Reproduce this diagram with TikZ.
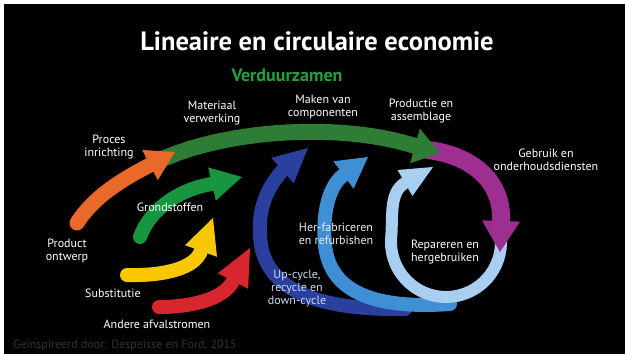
\documentclass[tikz,border=0pt]{standalone}
\usepackage{fontspec}
\setmainfont{PT Sans}
\usetikzlibrary{calc}
\definecolor{cOrange}{HTML}{E8692A}
\definecolor{cGreenL}{HTML}{2E7D34}
\definecolor{cGreenS}{HTML}{17963F}
\definecolor{cYellow}{HTML}{F7C800}
\definecolor{cRed}{HTML}{D8262E}
\definecolor{cBlueD}{HTML}{2B3F9E}
\definecolor{cBlueM}{HTML}{3F8FD4}
\definecolor{cBlueL}{HTML}{A8CFF0}
\definecolor{cPurple}{HTML}{9E2E8F}
\definecolor{cVerd}{HTML}{22A040}
\definecolor{cUp}{HTML}{C8DCF5}
\definecolor{cCredit}{HTML}{333333}
\newcommand\arrhead[4]{\fill[#4] (#2) -- ($(#1)!#3!90:(#2)$) -- ($(#1)!#3!-90:(#2)$) -- cycle;}
\begin{document}
\begin{tikzpicture}[x=1pt,y=-1pt,
  lbl/.style={text=white, font=\fontsize{12}{13}\selectfont, align=center, inner sep=0pt, anchor=base},
  band/.style={line width=#1, line cap=round},
]
\useasboundingbox (0,0) rectangle (625,354);
\fill[white] (0,0) rectangle (625,354);
\fill[black] (4,4) rectangle (625,354);

% --- dark blue (up-cycle) ---
\coordinate (dbT) at (405,309);
\coordinate (dbB) at (282.5,170.5);
\coordinate (dbA) at (308,148);
\draw[band=14pt, cBlueD] (dbT) .. controls (340,310) and (275,300) .. (262,250)
   .. controls (255,215) and (265,190) .. (dbB);
\arrhead{dbB}{dbA}{17pt}{cBlueD}

% --- medium blue (her-fabriceren) ---
\coordinate (mbT) at (450,304);
\coordinate (mbB) at (343.5,175);
\coordinate (mbA) at (368,157);
\draw[band=14pt, cBlueM] (mbT) .. controls (380,309) and (330,295) .. (325,245)
   .. controls (322,210) and (330,185) .. (mbB);
\arrhead{mbB}{mbA}{17pt}{cBlueM}

% --- light blue (repareren) ---
\coordinate (lbC) at (446,242);
\coordinate (lbB) at (405,183);
\coordinate (lbA) at (433,167);
\draw[band=12pt, cBlueL] ($(lbC)+(-15:55)$) arc[start angle=-15, end angle=185, radius=55]
   .. controls (393,217) and (389,192) .. (lbB);
\arrhead{lbB}{lbA}{15pt}{cBlueL}

% --- purple (gebruik) ---
\coordinate (puT) at (428,150);
\coordinate (puB) at (501,221);
\coordinate (puA) at (500,252);
\draw[band=18pt, cPurple] (puT) .. controls (470,155) and (503,180) .. (puB);
\arrhead{puB}{puA}{19pt}{cPurple}

% --- long green (verduurzamen) ---
\coordinate (glT) at (165,158);
\coordinate (glB) at (415,146);
\coordinate (glA) at (440,153);
\draw[band=16pt, cGreenL] (glT) .. controls (230,130) and (340,122) .. (glB);
\arrhead{glB}{glA}{18pt}{cGreenL}

% --- orange (proces inrichting) ---
\coordinate (orT) at (77,223);
\coordinate (orB) at (150,165);
\coordinate (orA) at (175,152);
\draw[band=15pt, cOrange] (orT) .. controls (95,195) and (125,178) .. (orB);
\arrhead{orB}{orA}{17pt}{cOrange}

% --- small green (grondstoffen) ---
\coordinate (gsT) at (140,237);
\coordinate (gsB) at (212,184);
\coordinate (gsA) at (242,177);
\draw[band=14pt, cGreenS] (gsT) .. controls (152,205) and (185,188) .. (gsB);
\arrhead{gsB}{gsA}{17pt}{cGreenS}

% --- yellow (substitutie) ---
\coordinate (yeT) at (127,275);
\coordinate (yeB) at (201,251);
\coordinate (yeA) at (213,218);
\draw[band=14pt, cYellow] (yeT) .. controls (165,276) and (195,268) .. (yeB);
\arrhead{yeB}{yeA}{17pt}{cYellow}

% --- red (andere afvalstromen) ---
\coordinate (reT) at (159,307);
\coordinate (reB) at (233,281);
\coordinate (reA) at (250,248);
\draw[band=14pt, cRed] (reT) .. controls (192,307) and (224,299) .. (reB);
\arrhead{reB}{reA}{17pt}{cRed}

% --- texts ---
\node[anchor=base, text=white, font=\bfseries\fontsize{26.5}{30}\selectfont, inner sep=0pt] (title) at (317,50) {Lineaire en circulaire economie};
\node[anchor=base, text=cVerd, font=\bfseries\fontsize{18}{20}\selectfont, inner sep=0pt] (verd) at (287,81) {Verduurzamen};
\node[lbl] (mat) at (212,122) {Materiaal\\verwerking};
\node[lbl] (mak) at (323,116) {Maken van\\componenten};
\node[lbl] (pro) at (421,120) {Productie en\\assemblage};
\node[lbl] (geb) at (546,170) {Gebruik en\\onderhoudsdiensten};
\node[lbl] (prc) at (109,156) {Proces\\inrichting};
\node[lbl] (gro) at (170,211) {Grondstoffen};
\node[lbl] (prd) at (67,260) {Product\\ontwerp};
\node[lbl] (sub) at (113,297) {Substitutie};
\node[lbl] (and) at (157,328) {Andere afvalstromen};
\node[lbl, text=white!92!black] (her) at (336,244) {Her-fabriceren\\en refurbishen};
\node[lbl, text=cUp] (upc) at (297,304) {Up-cycle,\\recycle en\\down-cycle};
\node[lbl] (rep) at (445,261) {Repareren en\\hergebruiken};
\node[anchor=base west, text=cCredit, font=\fontsize{12}{13}\selectfont, inner sep=0pt] (cred) at (13,348) {Geïnspireerd door: Despeisse en Ford, 2015};
\end{tikzpicture}
\end{document}
